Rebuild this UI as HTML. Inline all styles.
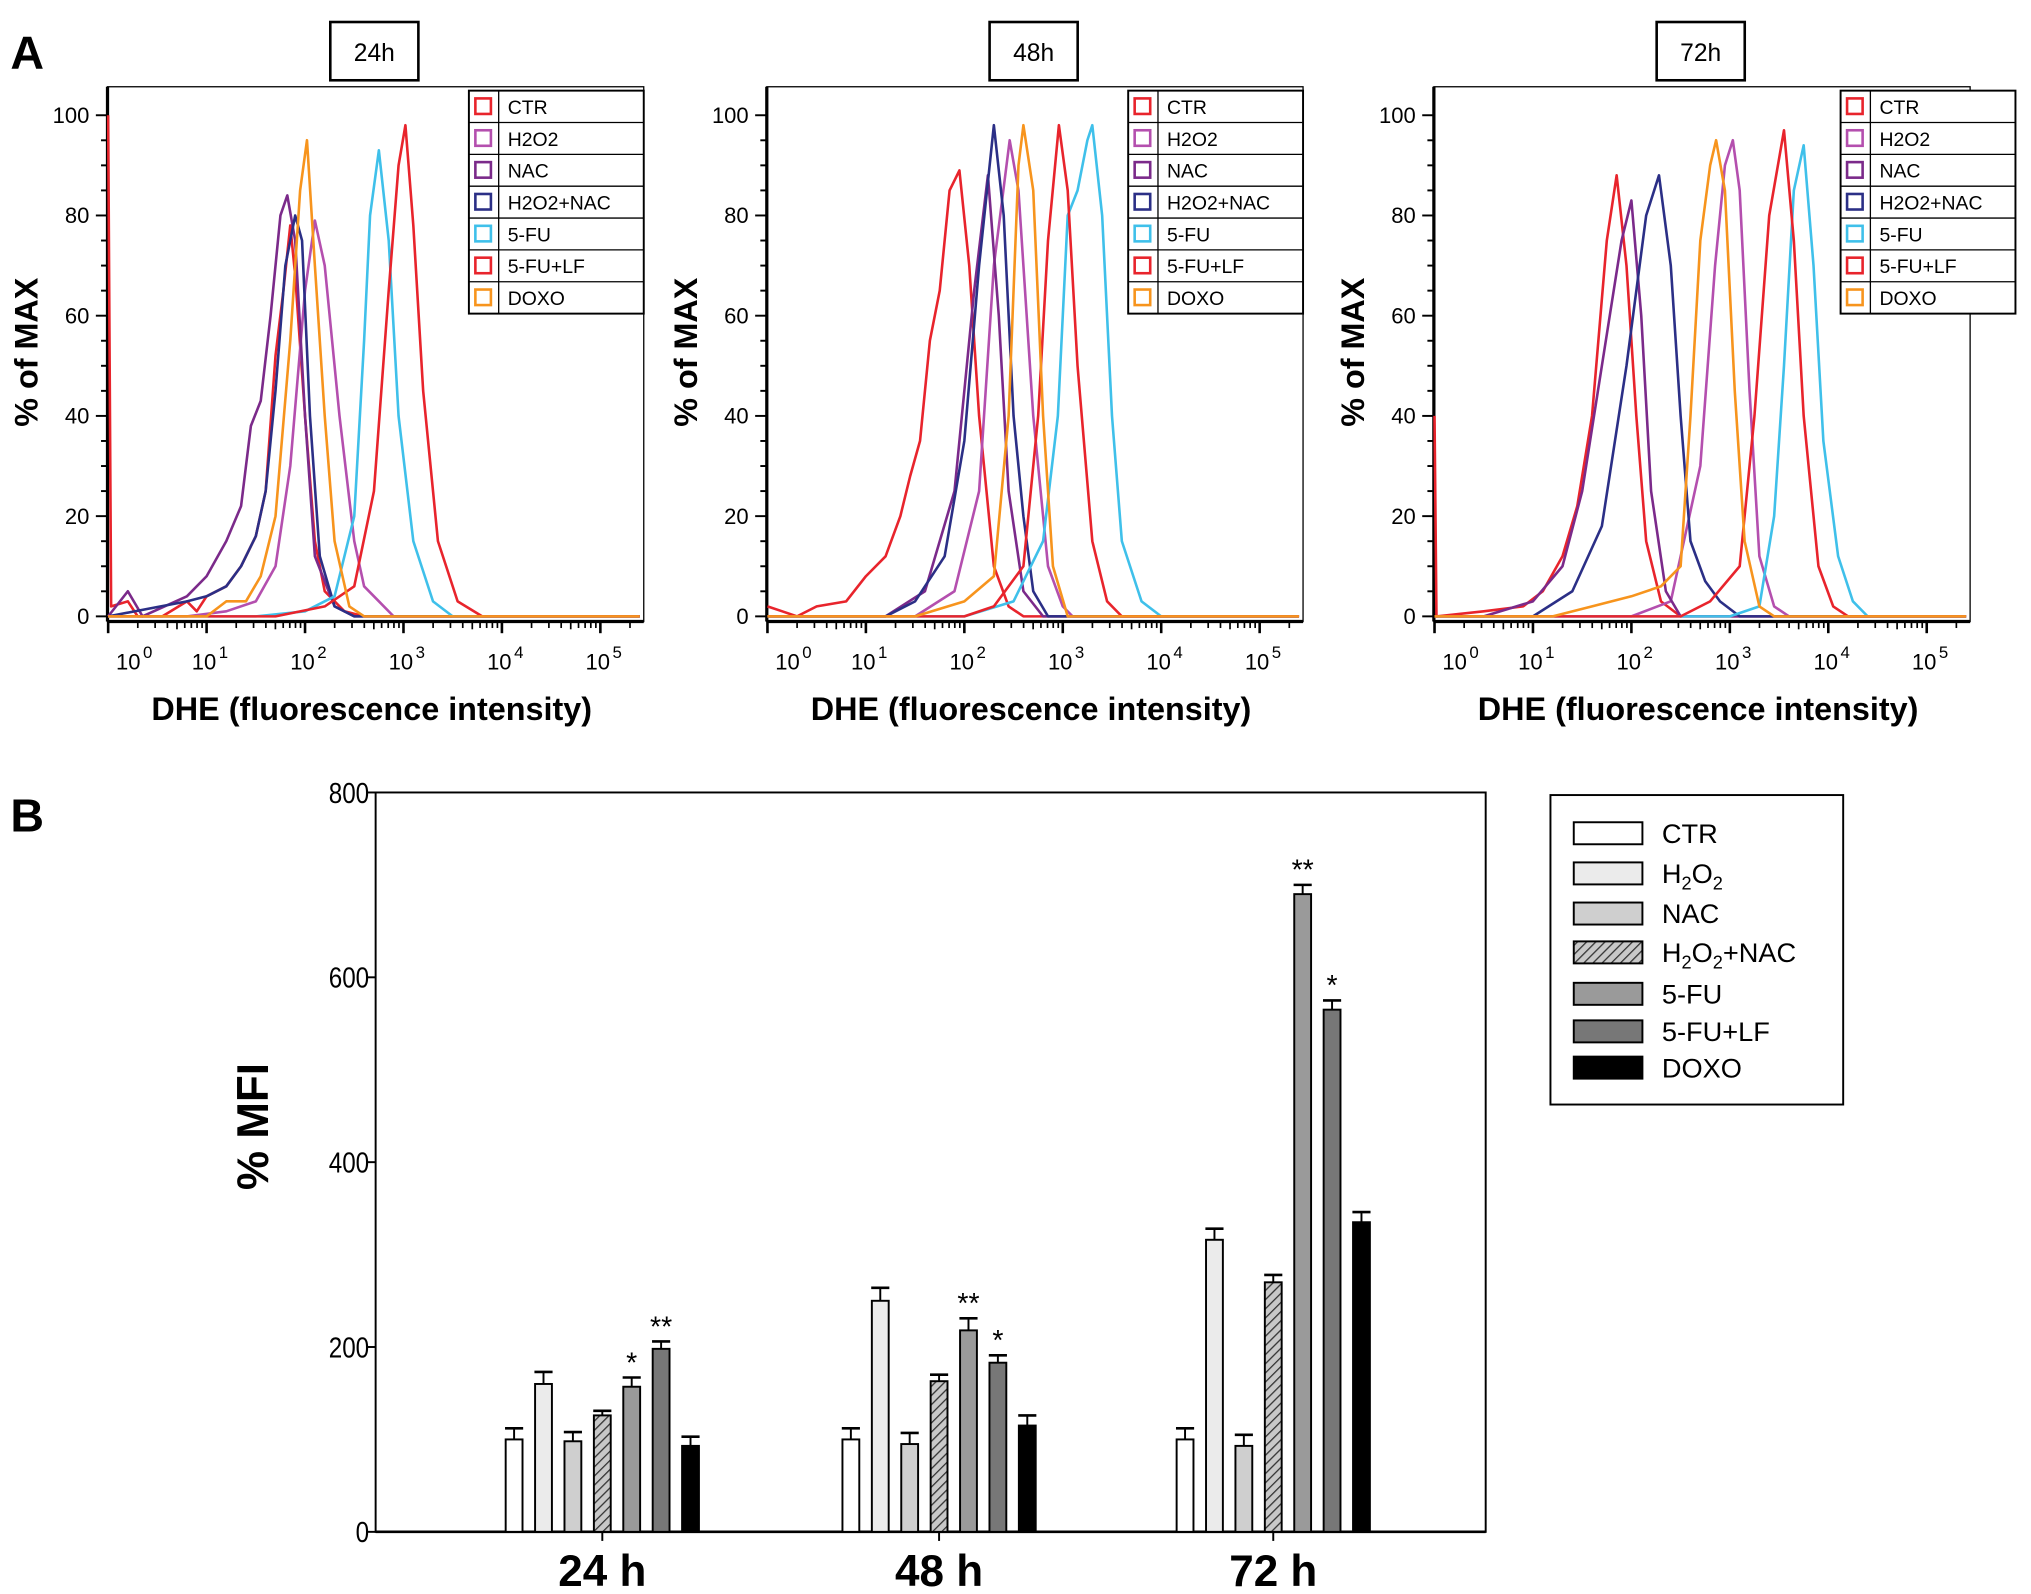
<!DOCTYPE html>
<html><head><meta charset="utf-8"><style>
html,body{margin:0;padding:0;background:#fff;}
svg{display:block;font-family:"Liberation Sans",sans-serif;}
</style></head><body>
<svg id="fig" width="2031" height="1594" viewBox="0 0 1568 1231" preserveAspectRatio="none" xmlns="http://www.w3.org/2000/svg">
<defs>
<pattern id="hatch" patternUnits="userSpaceOnUse" width="5" height="5" patternTransform="rotate(45)">
<rect width="5" height="5" fill="#c8c8c8"/><line x1="0" y1="0" x2="0" y2="5" stroke="#333" stroke-width="2"/>
</pattern>
</defs>
<text x="8" y="53" font-size="36" font-weight="bold">A</text>
<text x="8" y="642" font-size="36" font-weight="bold">B</text>
<g id="panelA"></g>
<g id="panelB"></g>
</svg>
<script>
const NS="http://www.w3.org/2000/svg";
function mk(tag,attrs,parent,text){const e=document.createElementNS(NS,tag);for(const k in attrs)e.setAttribute(k,attrs[k]);if(text!==undefined)e.textContent=text;parent.appendChild(e);return e;}

// ---------- Panel A data ----------
const seriesNames=["CTR","H2O2","NAC","H2O2+NAC","5-FU","5-FU+LF","DOXO"];
const seriesColors=["#e8242c","#b44fae","#7b2a8a","#2b2f86","#3fc0ea","#e8242c","#f7941d"];
const timeLabels=["24h","48h","72h"];
const yTicksA=[0,20,40,60,80,100];
// each curve: [log10 intensity, % of max]
const h24_CTR=[[0,100],[0.03,2],[0.2,3],[0.3,0],[0.55,0],[0.8,3],[0.9,1],[1.0,4],[1.2,6],[1.35,10],[1.5,16],[1.6,25],[1.7,52],[1.78,65],[1.85,78],[1.9,68],[2.0,40],[2.1,15],[2.2,5],[2.4,1],[2.6,0],[5.4,0]];
const h24_H2O2=[[0,0],[0.8,0],[1.2,1],[1.5,3],[1.7,10],[1.85,30],[2.0,65],[2.1,79],[2.2,70],[2.35,40],[2.5,15],[2.6,6],[2.75,3],[2.9,0],[5.4,0]];
const h24_NAC=[[0,0],[0.2,5],[0.35,0],[0.8,4],[1.0,8],[1.2,15],[1.35,22],[1.45,38],[1.55,43],[1.65,60],[1.75,80],[1.82,84],[1.9,75],[2.0,40],[2.1,12],[2.3,2],[2.5,0],[5.4,0]];
const h24_HN=[[0,0],[0.8,3],[1.0,4],[1.2,6],[1.35,10],[1.5,16],[1.6,25],[1.7,45],[1.8,70],[1.9,80],[1.97,75],[2.05,40],[2.15,12],[2.3,2],[2.5,0],[5.4,0]];
const h24_5FU=[[0,0],[1.5,0],[2.0,1],[2.3,4],[2.5,20],[2.6,55],[2.66,80],[2.75,93],[2.85,75],[2.95,40],[3.1,15],[3.3,3],[3.5,0],[5.4,0]];
const h24_LF=[[0,0],[1.7,0],[2.2,2],[2.5,6],[2.7,25],[2.85,65],[2.95,90],[3.02,98],[3.1,78],[3.2,45],[3.35,15],[3.55,3],[3.8,0],[5.4,0]];
const h24_DOXO=[[0,0],[1.0,0],[1.2,3],[1.4,3],[1.55,8],[1.7,20],[1.85,55],[1.95,85],[2.02,95],[2.1,70],[2.2,40],[2.3,15],[2.45,2],[2.6,0],[5.4,0]];
const h48_CTR=[[0,2],[0.15,1],[0.3,0],[0.5,2],[0.8,3],[1.0,8],[1.2,12],[1.35,20],[1.45,28],[1.55,35],[1.65,55],[1.75,65],[1.85,85],[1.95,89],[2.05,70],[2.15,40],[2.3,10],[2.45,2],[2.6,0],[5.4,0]];
const h48_H2O2=[[0,0],[1.5,0],[1.9,5],[2.15,25],[2.3,70],[2.46,95],[2.55,85],[2.7,40],[2.85,10],[3.0,2],[3.1,0],[5.4,0]];
const h48_NAC=[[0,0],[1.2,0],[1.6,5],[1.9,25],[2.1,65],[2.24,88],[2.35,60],[2.45,25],[2.6,5],[2.8,0],[5.4,0]];
const h48_HN=[[0,0],[1.2,0],[1.5,3],[1.8,12],[2.0,35],[2.15,70],[2.3,98],[2.4,80],[2.5,40],[2.6,20],[2.7,5],[2.85,0],[5.4,0]];
const h48_5FU=[[0,0],[2.0,0],[2.5,3],[2.8,15],[2.95,40],[3.05,80],[3.15,85],[3.25,95],[3.3,98],[3.4,80],[3.5,40],[3.6,15],[3.8,3],[4.0,0],[5.4,0]];
const h48_LF=[[0,0],[2.0,0],[2.3,2],[2.6,10],[2.75,40],[2.85,75],[2.96,98],[3.05,85],[3.15,50],[3.3,15],[3.45,3],[3.6,0],[5.4,0]];
const h48_DOXO=[[0,0],[1.5,0],[2.0,3],[2.3,8],[2.45,40],[2.55,90],[2.6,98],[2.7,85],[2.8,40],[2.9,10],[3.05,0],[5.4,0]];
const h72_CTR=[[0,40],[0.02,0],[0.5,1],[0.9,2],[1.1,5],[1.3,12],[1.45,22],[1.6,40],[1.75,75],[1.85,88],[1.95,70],[2.05,40],[2.15,15],[2.3,3],[2.5,0],[5.4,0]];
const h72_H2O2=[[0,0],[2.0,0],[2.4,3],[2.7,30],[2.85,70],[2.95,90],[3.03,95],[3.1,85],[3.2,45],[3.3,12],[3.45,2],[3.6,0],[5.4,0]];
const h72_NAC=[[0,0],[0.5,0],[1.0,3],[1.3,10],[1.5,25],[1.7,50],[1.9,75],[2.0,83],[2.1,60],[2.2,25],[2.35,5],[2.5,0],[5.4,0]];
const h72_HN=[[0,0],[1.0,0],[1.4,5],[1.7,18],[1.95,50],[2.15,80],[2.28,88],[2.4,70],[2.5,40],[2.6,15],[2.75,7],[2.9,3],[3.1,0],[5.4,0]];
const h72_5FU=[[0,0],[3.0,0],[3.3,2],[3.45,20],[3.55,50],[3.65,85],[3.75,94],[3.85,70],[3.95,35],[4.1,12],[4.25,3],[4.4,0],[5.4,0]];
const h72_LF=[[0,0],[2.5,0],[2.8,3],[3.1,10],[3.25,40],[3.4,80],[3.55,97],[3.65,75],[3.75,40],[3.9,10],[4.05,2],[4.2,0],[5.4,0]];
const h72_DOXO=[[0,0],[1.2,0],[1.6,2],[2.0,4],[2.3,6],[2.5,10],[2.6,40],[2.7,75],[2.8,90],[2.86,95],[2.95,85],[3.05,45],[3.15,15],[3.3,2],[3.45,0],[5.4,0]];
const panelCurves=[
 [h24_CTR,h24_H2O2,h24_NAC,h24_HN,h24_5FU,h24_LF,h24_DOXO],
 [h48_CTR,h48_H2O2,h48_NAC,h48_HN,h48_5FU,h48_LF,h48_DOXO],
 [h72_CTR,h72_H2O2,h72_NAC,h72_HN,h72_5FU,h72_LF,h72_DOXO]];

// ---------- Panel B data ----------
const groupLabels=["24 h","48 h","72 h"];
const barNames=["CTR","H2O2","NAC","H2O2+NAC","5-FU","5-FU+LF","DOXO"];
const vals24=[100,160,98,126,157,198,93];
const vals48=[100,250,95,163,218,183,115];
const vals72=[100,316,93,270,690,565,335];
const err24=[12,13,10,5,10,8,10];
const err48=[12,14,12,7,13,8,11];
const err72=[12,12,12,8,10,10,11];
const stars24=["","","","","*","**",""];
const stars48=["","","","","**","*",""];
const stars72=["","","","","**","*",""];
const yTicksB=[0,200,400,600,800];
const barFills=["#ffffff","#ebebeb","#cfcfcf","url(#hatch)","#9a9a9a","#777777","#000000"];

// ---------- draw Panel A ----------
const pA=document.getElementById("panelA");
const lefts=[83,592,1107];
const legendX=[362,871,1421];
const W=414, TOPA=67, BOTA=480;
function yA(v){return 476-v*3.87;}
panelCurves.forEach((curves,pi)=>{
  const L=lefts[pi];
  const xA=d=>L+0.5+76*d;
  const g=mk("g",{},pA);
  
  
  const tb=mk("rect",{x:L+172,y:17,width:68,height:45,fill:"#fff",stroke:"#000","stroke-width":2},g);
  
  
  const tt=mk("text",{x:L+206,y:47,"font-size":19,"text-anchor":"middle"},g,timeLabels[pi]);
  
  
  const frA=mk("rect",{x:L,y:TOPA,width:W,height:BOTA-TOPA,fill:"none",stroke:"#000","stroke-width":1},g);
  
  
  mk("line",{x1:L,y1:TOPA,x2:L,y2:BOTA,stroke:"#000","stroke-width":2.5},g);
  mk("line",{x1:L,y1:BOTA,x2:L+W,y2:BOTA,stroke:"#000","stroke-width":2.5},g);
  for(let v=0;v<=100;v+=5){const maj=v%20===0;mk("line",{x1:L-(maj?9:5),y1:yA(v),x2:L,y2:yA(v),stroke:"#000","stroke-width":1.5},g);}
  yTicksA.forEach(v=>{const t=mk("text",{x:L-14,y:yA(v)+6,"font-size":17,"text-anchor":"end"},g,String(v));
    
    });
  for(let d=0;d<=5;d++){
    mk("line",{x1:xA(d),y1:BOTA,x2:xA(d),y2:BOTA+9,stroke:"#000","stroke-width":2},g);
    for(let k=2;k<10;k++){const x=xA(d+Math.log10(k));if(x<L+W)mk("line",{x1:x,y1:BOTA,x2:x,y2:BOTA+(k===5?6:5),stroke:"#000","stroke-width":1.3},g);}
    const lx=d===0?L+22:xA(d)+4;
    const t=mk("text",{x:lx-6,y:BOTA+37,"font-size":17,"text-anchor":"middle"},g,"10");
    
    
    mk("text",{x:lx+9,y:BOTA+28,"font-size":13,"text-anchor":"middle"},g,String(d));
  }
  const xl=mk("text",{x:L+204,y:556,"font-size":25,"font-weight":"bold","text-anchor":"middle"},g,"DHE (fluorescence intensity)");
  
  
  const yl=mk("text",{x:0,y:0,"font-size":25,"font-weight":"bold","text-anchor":"middle",transform:`translate(${L-54},${272}) rotate(-90)`},g,"% of MAX");
  
  
  curves.forEach((c,si)=>{
    const pts=c.map(p=>`${xA(p[0]).toFixed(1)},${yA(p[1]).toFixed(1)}`).join(" ");
    const pl=mk("polyline",{points:pts,fill:"none",stroke:seriesColors[si],"stroke-width":2,"stroke-linejoin":"round"},g);
    
    
  });
  const lg=mk("g",{},g);
  
  
  const lx=legendX[pi], ly=70, rh=24.6;
  mk("rect",{x:lx,y:ly,width:135,height:rh*7,fill:"#fff",stroke:"#000","stroke-width":1.5},lg);
  mk("line",{x1:lx+23,y1:ly,x2:lx+23,y2:ly+rh*7,stroke:"#000","stroke-width":1},lg);
  seriesNames.forEach((n,i)=>{
    const y0=ly+i*rh;
    if(i>0)mk("line",{x1:lx,y1:y0,x2:lx+135,y2:y0,stroke:"#000","stroke-width":1},lg);
    mk("rect",{x:lx+5,y:y0+6,width:12,height:12,fill:"none",stroke:seriesColors[i],"stroke-width":2},lg);
    const t=mk("text",{x:lx+30,y:y0+18,"font-size":15},lg,n);
    
    
  });
});

// ---------- draw Panel B ----------
const pB=document.getElementById("panelB");
const BL=290,BR=1147,BT=612,BB=1183;
const yB=v=>BB-v*(BB-BT)/800;
const groupCenters=[465,725,983];
const step=22.7,bw=13;
const frB=mk("rect",{x:BL,y:BT,width:BR-BL,height:BB-BT,fill:"none",stroke:"#000","stroke-width":1.5},pB);


mk("line",{x1:BL,y1:BB,x2:BR,y2:BB,stroke:"#000","stroke-width":2},pB);
yTicksB.forEach(v=>{
  mk("line",{x1:BL-6,y1:yB(v),x2:BL,y2:yB(v),stroke:"#000","stroke-width":1.5},pB);
  const t=mk("text",{x:BL-5,y:yB(v)+8,"font-size":22,"text-anchor":"end",transform:`translate(${BL-5},${yB(v)+8}) scale(0.85,1) translate(${-(BL-5)},${-(yB(v)+8)})`},pB,String(v));
  
  
});
const yt=mk("text",{x:0,y:0,"font-size":34,"font-weight":"bold","text-anchor":"middle",transform:"translate(207,870) rotate(-90)"},pB,"% MFI");


const allVals=[vals24,vals48,vals72],allErr=[err24,err48,err72],allStars=[stars24,stars48,stars72];
groupLabels.forEach((gl,gi)=>{
  const cx=groupCenters[gi];
  mk("line",{x1:cx,y1:BB,x2:cx,y2:BB+7,stroke:"#000","stroke-width":1.5},pB);
  const t=mk("text",{x:cx,y:1225,"font-size":34,"font-weight":"bold","text-anchor":"middle"},pB,gl);
  
  
  allVals[gi].forEach((v,i)=>{
    const x=cx+(i-3)*step;
    const e=allErr[gi][i];
    mk("line",{x1:x,y1:yB(v),x2:x,y2:yB(v+e),stroke:"#000","stroke-width":1.5},pB);
    mk("line",{x1:x-7,y1:yB(v+e),x2:x+7,y2:yB(v+e),stroke:"#000","stroke-width":2},pB);
    const r=mk("rect",{x:x-bw/2,y:yB(v),width:bw,height:yB(0)-yB(v),fill:barFills[i],stroke:"#000","stroke-width":1.5},pB);
    
    
    const s=allStars[gi][i];
    if(s){const st=mk("text",{x:x,y:yB(v+e)-4,"font-size":22,"text-anchor":"middle"},pB,s);
      
      }
  });
});
const lgB=mk("g",{},pB);


mk("rect",{x:1197,y:614,width:226,height:239,fill:"#fff",stroke:"#000","stroke-width":1.5},lgB);
const legY=[643,674,705,735,767,796,824];
barNames.forEach((n,i)=>{
  const y=legY[i];
  mk("rect",{x:1215,y:y-8,width:53,height:17,fill:barFills[i],stroke:"#000","stroke-width":1.5},lgB);
  const t=mk("text",{x:1283,y:y+8,"font-size":21},lgB);
  
  
  if(n.includes("H2O2")){
    t.appendChild(document.createTextNode("H"));
    mk("tspan",{"font-size":14,dy:5},t,"2");
    mk("tspan",{dy:-5},t,"O");
    mk("tspan",{"font-size":14,dy:5},t,"2");
    mk("tspan",{dy:-5},t,n.replace("H2O2",""));
  } else t.textContent=n;
});
</script>
</body></html>
